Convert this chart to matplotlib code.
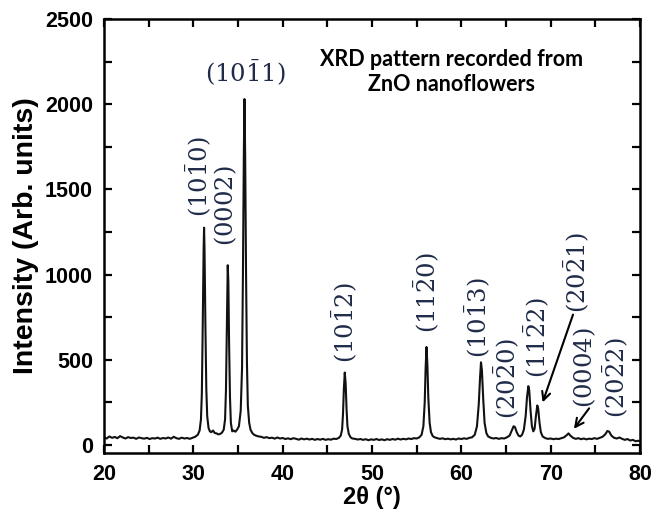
import matplotlib
matplotlib.use("Agg")
import matplotlib.pyplot as plt
from matplotlib.ticker import MultipleLocator

# XRD pattern (2theta in degrees, intensity in arb. units)
two_theta = [
    20.0, 20.3, 20.6, 20.9, 21.2, 21.5, 21.8, 22.1, 22.4, 22.7, 23.0, 23.3,
    23.6, 23.9, 24.2, 24.5, 24.8, 25.1, 25.4, 25.7, 26.0, 26.3, 26.6, 26.9,
    27.2, 27.5, 27.8, 28.1, 28.4, 28.7, 29.0, 29.3, 29.6, 29.9, 30.2, 30.5,
    30.7, 30.85, 30.95, 31.05, 31.15, 31.2, 31.25, 31.35, 31.45, 31.55, 31.7,
    31.85, 32.0, 32.2, 32.4, 32.6, 32.8, 33.0, 33.2, 33.4, 33.55, 33.65, 33.75,
    33.85, 33.92, 34.0, 34.1, 34.2, 34.35, 34.5, 34.7, 34.9, 35.1, 35.3, 35.45,
    35.55, 35.65, 35.72, 35.8, 35.9, 36.0, 36.1, 36.25, 36.4, 36.6, 36.8, 37.0,
    37.3, 37.6, 37.9, 38.2, 38.5, 38.8, 39.1, 39.4, 39.7, 40.0, 40.3, 40.6,
    40.9, 41.2, 41.5, 41.8, 42.1, 42.4, 42.7, 43.0, 43.3, 43.6, 43.9, 44.2,
    44.5, 44.8, 45.1, 45.4, 45.7, 46.0, 46.3, 46.5, 46.65, 46.75, 46.85, 46.95,
    47.05, 47.15, 47.25, 47.4, 47.6, 47.8, 48.1, 48.4, 48.7, 49.0, 49.3, 49.6,
    49.9, 50.2, 50.5, 50.8, 51.1, 51.4, 51.7, 52.0, 52.3, 52.6, 52.9, 53.2,
    53.5, 53.8, 54.1, 54.4, 54.7, 55.0, 55.3, 55.55, 55.75, 55.9, 56.0, 56.1,
    56.2, 56.3, 56.45, 56.6, 56.8, 57.0, 57.3, 57.6, 57.9, 58.2, 58.5, 58.8,
    59.1, 59.4, 59.7, 60.0, 60.3, 60.6, 60.9, 61.2, 61.5, 61.75, 61.95, 62.1,
    62.2, 62.3, 62.45, 62.6, 62.8, 63.0, 63.3, 63.6, 63.9, 64.2, 64.5, 64.8,
    65.1, 65.4, 65.65, 65.85, 66.0, 66.2, 66.4, 66.6, 66.8, 67.0, 67.2, 67.35,
    67.5, 67.6, 67.75, 67.9, 68.05, 68.2, 68.35, 68.5, 68.6, 68.75, 68.9, 69.1,
    69.4, 69.7, 70.0, 70.3, 70.6, 70.9, 71.2, 71.5, 71.8, 72.0, 72.2, 72.5,
    72.8, 73.1, 73.4, 73.7, 74.0, 74.3, 74.6, 74.9, 75.2, 75.5, 75.8, 76.1,
    76.35, 76.55, 76.8, 77.1, 77.4, 77.7, 78.0, 78.3, 78.6, 78.9, 79.2, 79.5,
    79.8, 80.0,
]
intensity = [
    45, 38, 50, 42, 47, 40, 52, 44, 38, 46, 41, 43,
    36, 44, 40, 37, 42, 35, 40, 38, 43, 36, 41, 38,
    44, 37, 48, 40, 36, 43, 38, 41, 36, 42, 48, 60,
    85, 150, 300, 700, 1150, 1275, 1150, 700, 330, 170, 100,
    80, 75, 85, 70, 68, 62, 65, 72, 90, 150, 320, 700,
    1055, 950, 600, 280, 130, 80, 85, 78, 90, 110, 200, 450,
    1000, 1700, 2030, 1700, 1000, 480, 230, 130, 90, 70, 60, 55,
    50, 48, 42, 46, 40, 43, 37, 44, 38, 41, 35, 39,
    34, 40, 36, 31, 38, 33, 37, 32, 36, 30, 35, 31,
    36, 30, 34, 31, 37, 35, 42, 55, 90, 180, 330, 425,
    360, 210, 110, 65, 45, 38, 36, 32, 35, 30, 34, 28,
    33, 30, 35, 29, 33, 28, 34, 30, 35, 31, 37, 32,
    36, 33, 38, 35, 40, 38, 45, 60, 110, 250, 450, 575,
    470, 280, 130, 75, 52, 45, 40, 36, 39, 34, 37, 33,
    36, 32, 38, 35, 39, 36, 42, 45, 60, 110, 240, 400,
    485, 440, 270, 130, 70, 50, 42, 38, 41, 36, 40, 38,
    45, 55, 85, 110, 105, 75, 55, 50, 60, 90, 170, 280,
    345, 320, 200, 110, 80, 95, 170, 232, 215, 130, 75, 50,
    40, 36, 38, 34, 37, 35, 40, 45, 58, 68, 55, 42,
    36, 40, 34, 38, 33, 37, 35, 40, 36, 42, 48, 62,
    82, 78, 55, 42, 38, 44, 36, 30, 35, 26, 30, 22,
    25, 20,
]

# Miller-Bravais labels: (text, x, y, rotation)
peak_labels = [
    (r"$(10\bar{1}1)$", 35.8, 2188, 0),
    (r"$(10\bar{1}0)$", 30.5, 1335, 90),
    (r"$(0002)$", 33.6, 1170, 90),
    (r"$(10\bar{1}2)$", 46.9, 482, 90),
    (r"$(11\bar{2}0)$", 56.0, 659, 90),
    (r"$(10\bar{1}3)$", 61.8, 512, 90),
    (r"$(20\bar{2}0)$", 65.05, 153, 90),
    (r"$(11\bar{2}2)$", 68.4, 394, 90),
    (r"$(20\bar{2}1)$", 72.9, 775, 90),
    (r"$(0004)$", 73.8, 218, 90),
    (r"$(20\bar{2}2)$", 77.2, 159, 90),
]
# arrows: (start, end)
arrows = [
    ((72.5, 765), (69.1, 250)),
    ((74.3, 215), (72.6, 95)),
]

plt.rcParams["mathtext.fontset"] = "dejavuserif"
plt.rcParams["font.family"] = "Liberation Sans"

fig = plt.figure(figsize=(6.53, 5.14), dpi=100)
ax = fig.add_axes([0.1593, 0.1187, 0.8208, 0.8444])

ax.plot(two_theta, intensity, color="#111111", lw=1.5)

ax.set_xlim(20, 80)
ax.set_ylim(-47, 2500)
ax.xaxis.set_major_locator(MultipleLocator(10))
ax.xaxis.set_minor_locator(MultipleLocator(5))
ax.yaxis.set_major_locator(MultipleLocator(500))
ax.yaxis.set_minor_locator(MultipleLocator(250))
ax.tick_params(which="both", direction="in", top=True, right=True,
               length=6, width=1.6, labelsize=15.5, pad=8)
for lab in ax.get_xticklabels() + ax.get_yticklabels():
    lab.set_fontweight("bold")
for sp in ax.spines.values():
    sp.set_linewidth(1.8)

ax.set_xlabel("2θ (°)", fontsize=17, fontweight="bold", labelpad=1)
ax.set_ylabel("Intensity (Arb. units)", fontsize=20.5, fontweight="bold", labelpad=4)

lab_color = "#1f2b48"
for txt, x, y, rot in peak_labels:
    if rot == 0:
        ax.text(x, y, txt, fontsize=17.5, color=lab_color, ha="center", va="center")
    else:
        ax.text(x, y, txt, fontsize=17.5, color=lab_color, rotation=90,
                ha="center", va="bottom")

for (x0, y0), (x1, y1) in arrows:
    ax.annotate("", xy=(x1, y1), xytext=(x0, y0),
                arrowprops=dict(arrowstyle="->", color="black", lw=1.5,
                                shrinkA=0, shrinkB=0, mutation_scale=15))

ax.text(58.9, 2190, "XRD pattern recorded from\nZnO nanoflowers", fontsize=15.5,
        fontweight="bold", family="Lato", ha="center", va="center",
        linespacing=1.25)

fig.savefig("out.png", dpi=100)
